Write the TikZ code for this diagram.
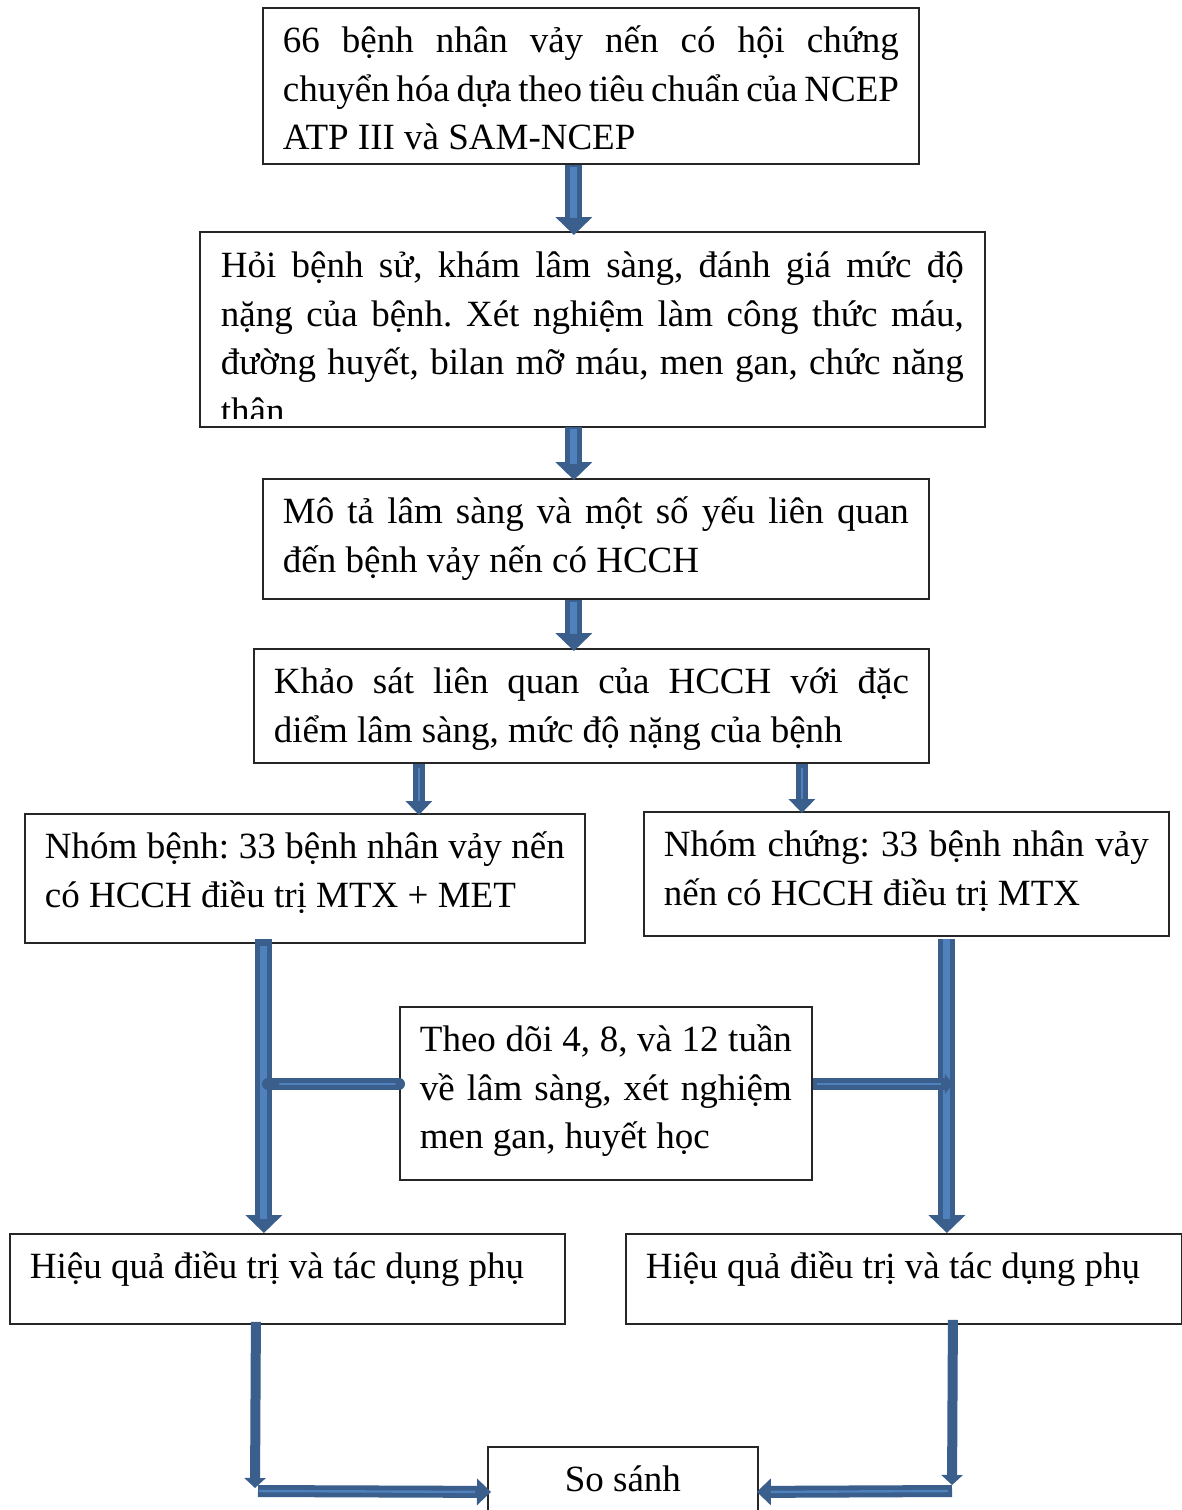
\documentclass[tikz,border=0pt]{standalone}
\usepackage{fontspec}
\setmainfont{Liberation Serif}
\usetikzlibrary{arrows.meta}
\definecolor{flowdark}{RGB}{58,95,140}
\definecolor{flowlight}{RGB}{79,129,189}
\hyphenpenalty=10000
\exhyphenpenalty=10000
\frenchspacing
\newcommand{\boxtext}[3]{\parbox[t][#2][t]{#1}{\strut #3}}

\begin{document}
\begin{tikzpicture}[
    x=0.5pt, y=-0.5pt,
    box/.style={rectangle, draw=black!85, line width=0.9pt, anchor=north west, inner xsep=10pt, inner ysep=5.5pt, font={\fontsize{18.5pt}{24.25pt}\selectfont}},
    bigflow/.style={draw=flowdark, line width=8.5pt, -{Triangle[width=18pt,length=9pt]}, postaction={draw=flowlight, line width=3.5pt, -, shorten <=1pt, shorten >=7pt}},
    midflow/.style={draw=flowdark, line width=6pt, -{Triangle[width=13pt,length=7pt]}, postaction={draw=flowlight, line width=1.2pt, -, shorten <=2pt, shorten >=6pt}},
    plainflow/.style={draw=flowdark, line width=5pt, -{Triangle[width=10.5pt,length=5pt]}}
]
    \path[use as bounding box, fill=white] (0,0) rectangle (1182,1510);

    % boxes
    \node [box] (b1) at (262,7) {\boxtext{308pt}{67pt}{66 bệnh nhân vảy nến có hội chứng\linebreak chuyển hóa dựa theo tiêu chuẩn của NCEP\linebreak ATP III và SAM-NCEP}};
    \begin{scope}
        \clip (190,222) rectangle (995,418);
        \node [box, draw=none] (b2) at (200,232) {\boxtext{371.5pt}{85.5pt}{Hỏi bệnh sử, khám lâm sàng, đánh giá mức độ\linebreak nặng của bệnh. Xét nghiệm làm công thức máu,\linebreak đường huyết, bilan mỡ máu, men gan, chức năng\linebreak thân}};
    \end{scope}
    \draw [draw=black!85, line width=0.9pt] (b2.north west) rectangle (b2.south east);
    \node [box] (b3) at (262,478) {\boxtext{313pt}{49pt}{Mô tả lâm sàng và một số yếu liên quan\linebreak đến bệnh vảy nến có HCCH}};
    \node [box] (b4) at (253,648) {\boxtext{317.5pt}{46pt}{Khảo sát liên quan của HCCH với đặc\linebreak diểm lâm sàng, mức độ nặng của bệnh}};
    \node [box] (b5) at (24,813) {\boxtext{260pt}{53.5pt}{Nhóm bệnh: 33 bệnh nhân vảy nến\linebreak có HCCH điều trị MTX + MET}};
    \node [box] (b6) at (643,811) {\boxtext{242.5pt}{51pt}{Nhóm chứng: 33 bệnh nhân vảy\linebreak nến có HCCH điều trị MTX}};
    \node [box] (b7) at (399,1006) {\boxtext{186pt}{75.5pt}{Theo dõi 4, 8, và 12 tuần\linebreak về lâm sàng, xét nghiệm\linebreak men gan, huyết học}};
    \node [box] (b8) at (9,1233) {\boxtext{257.5pt}{34pt}{Hiệu quả điều trị và tác dụng phụ}};
    \node [box] (b9) at (625,1233) {\boxtext{258pt}{34pt}{Hiệu quả điều trị và tác dụng phụ}};
    \node [box] (b10) at (487,1446) {\parbox[t][34pt][t]{115pt}{\centering\strut So sánh}};

    % arrows down the middle
    \draw [bigflow, shorten >=-1.5pt] ([xshift=-8.5pt]b1.south) -- ([xshift=-9.25pt]b2.north);
    \draw [bigflow, shorten >=-1pt] ([xshift=-9.25pt]b2.south) -- ([xshift=-11pt]b3.north);
    \draw [bigflow, shorten >=-1.5pt] ([xshift=-11pt]b3.south) -- ([xshift=-8.75pt]b4.north);
    \draw [midflow, shorten >=-1pt] ([xshift=-86.25pt]b4.south) -- ([xshift=57pt]b5.north);
    \draw [midflow, shorten >=-1pt] ([xshift=105.25pt]b4.south) -- ([xshift=-52.25pt]b6.north);

    % the two branches
    \draw [bigflow, shorten <=-2.5pt] ([xshift=-20.5pt]b5.south) -- ([xshift=-11.75pt]b8.north);
    \draw [bigflow, shorten <=1pt] ([xshift=20.25pt]b6.south) -- ([xshift=21.5pt]b9.north);
    \draw [midflow, -, line cap=round] ([yshift=4.75pt]b7.west) -- ([xshift=-65.5pt,yshift=4.75pt]b7.west);
    \draw [midflow, -{Triangle[width=10pt,length=4pt]}] ([yshift=4.75pt]b7.east) -- ([xshift=70pt,yshift=4.75pt]b7.east);

    % to the comparison
    \coordinate (jl) at (255,1491);
    \coordinate (jr) at (952,1491);
    \draw [plainflow, shorten <=-1.5pt, shorten >=1.5pt] ([xshift=-15.75pt]b8.south) -- (jl);
    \draw [midflow, shorten <=1.5pt, shorten >=-2pt] (jl) -- (b10.west);
    \draw [plainflow, shorten <=-2.5pt, shorten >=3pt] ([xshift=24.5pt]b9.south) -- (jr);
    \draw [midflow, shorten >=-1pt] (jr) -- (b10.east);
\end{tikzpicture}
\end{document}
